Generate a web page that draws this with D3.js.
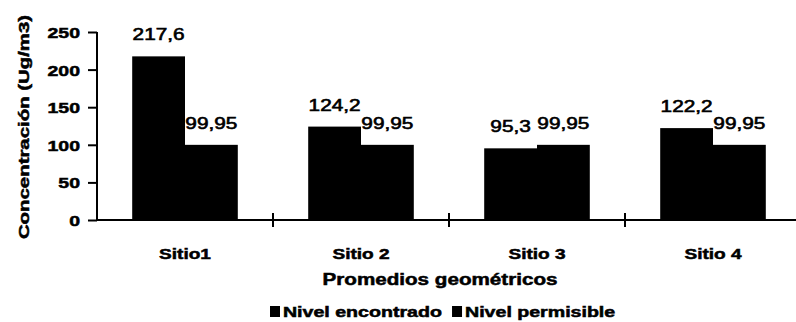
<!DOCTYPE html>
<html>
<head>
<meta charset="utf-8">
<script src="https://cdn.jsdelivr.net/npm/d3@7"></script>
<style>
  html, body { margin: 0; padding: 0; background: #fff; }
  svg { display: block; }
  text { font-family: "Liberation Sans", Arial, sans-serif; fill: #000; }
  .heavy { font-weight: bold; stroke: #000; stroke-width: 0.5px; }
  .val { stroke: #000; stroke-width: 0.6px; }
</style>
</head>
<body>
<svg id="chart" width="796" height="322"></svg>
<script>
// Concentración promedio geométrica por sitio vs. nivel permisible
const sitios = ["Sitio1", "Sitio 2", "Sitio 3", "Sitio 4"];
const series = ["Nivel encontrado", "Nivel permisible"];
const nivelEncontrado = [217.6, 124.2, 95.3, 122.2];
const nivelPermisible = [99.95, 99.95, 99.95, 99.95];
const yTicks = [0, 50, 100, 150, 200, 250];
const yTitle = "Concentración (Ug/m3)";
const xTitle = "Promedios geométricos";

const fmt = v => String(v).replace(".", ",");

const svg = d3.select("#chart");
const plot = { left: 97, right: 801, top: 32, bottom: 220 };

const x0 = d3.scaleBand().domain(sitios)
  .range([plot.left, plot.right]).paddingInner(0.4).paddingOuter(0.2);
const x1 = d3.scaleBand().domain(series).range([0, x0.bandwidth()]);
const y = d3.scaleLinear().domain([0, 250]).range([plot.bottom, plot.top]);

// horizontally widened lettering: scale glyphs along the baseline, keep anchor point
function widen(sel, s) {
  sel.each(function () {
    const t = d3.select(this);
    const x = +t.attr("x") || 0;
    t.attr("x", x / s).attr("transform", ((t.attr("transform") || "") + ` scale(${s},1)`).trim());
  });
  return sel;
}

const rows = sitios.map((s, i) => ({ sitio: s, values: [
  { key: series[0], v: nivelEncontrado[i] },
  { key: series[1], v: nivelPermisible[i] }
]}));

// bars
const groups = svg.append("g").selectAll("g").data(rows).join("g")
  .attr("transform", d => `translate(${x0(d.sitio)},0)`);
groups.selectAll("rect").data(d => d.values).join("rect")
  .attr("x", d => x1(d.key))
  .attr("y", d => y(d.v))
  .attr("width", x1.bandwidth())
  .attr("height", d => y(0) - y(d.v))
  .attr("fill", "#000");

// value labels
groups.selectAll("text").data(d => d.values).join("text")
  .attr("class", "val")
  .attr("x", d => x1(d.key) + x1.bandwidth() / 2)
  .attr("y", d => y(d.v) - 16)
  .attr("text-anchor", "middle")
  .style("font-size", "16px")
  .text(d => fmt(d.v))
  .call(widen, 1.3);

// y axis
const yAxis = svg.append("g").attr("transform", `translate(${plot.left},0)`)
  .call(d3.axisLeft(y).tickValues(yTicks).tickSize(9).tickPadding(8).tickFormat(d3.format("d")));
yAxis.select(".domain").attr("stroke", "#000").attr("stroke-width", 2).attr("d", `M0,${plot.top}V${plot.bottom}`);
yAxis.selectAll(".tick line").attr("stroke", "#000").attr("stroke-width", 2);
yAxis.selectAll(".tick text").attr("class", "heavy").style("font-size", "15px")
  .attr("dy", "0.36em").call(widen, 1.3);

// x axis with crossing tick marks at category boundaries
const xAxis = svg.append("g");
xAxis.append("line").attr("x1", plot.left).attr("x2", 796)
  .attr("y1", y(0)).attr("y2", y(0)).attr("stroke", "#000").attr("stroke-width", 2);
const bounds = d3.range(1, sitios.length).map(i => x0(sitios[i]) - x0.step() * x0.paddingInner() / 2);
xAxis.selectAll("line.tk").data(bounds).join("line").attr("class", "tk")
  .attr("x1", d => d).attr("x2", d => d)
  .attr("y1", y(0) - 7).attr("y2", y(0) + 7)
  .attr("stroke", "#000").attr("stroke-width", 2);
xAxis.selectAll("text").data(sitios).join("text")
  .attr("class", "heavy")
  .attr("x", d => x0(d) + x0.bandwidth() / 2)
  .attr("y", 259)
  .attr("text-anchor", "middle")
  .style("font-size", "15px")
  .text(d => d)
  .call(widen, 1.27);

// axis titles
svg.append("text")
  .attr("class", "heavy")
  .attr("transform", "translate(29,127) rotate(-90)")
  .attr("text-anchor", "middle")
  .style("font-size", "15px")
  .text(yTitle).call(widen, 1.36);
svg.append("text")
  .attr("class", "heavy")
  .attr("x", 440).attr("y", 285)
  .attr("text-anchor", "middle")
  .style("font-size", "16px")
  .text(xTitle).call(widen, 1.29);

// legend
const LS = 1.4;
const legend = svg.append("g").attr("transform", "translate(270,317)");
let lx = 0;
series.forEach(name => {
  const g = legend.append("g").attr("transform", `translate(${lx},0)`);
  g.append("rect").attr("x", 0).attr("y", -11).attr("width", 10).attr("height", 11).attr("fill", "#000");
  const t = g.append("text").attr("class", "heavy").attr("x", 13).attr("y", 0)
    .style("font-size", "14px").text(name);
  const w = t.node().getComputedTextLength() * LS;
  t.call(widen, LS);
  lx += 13 + w + 10;
});
</script>
</body>
</html>
